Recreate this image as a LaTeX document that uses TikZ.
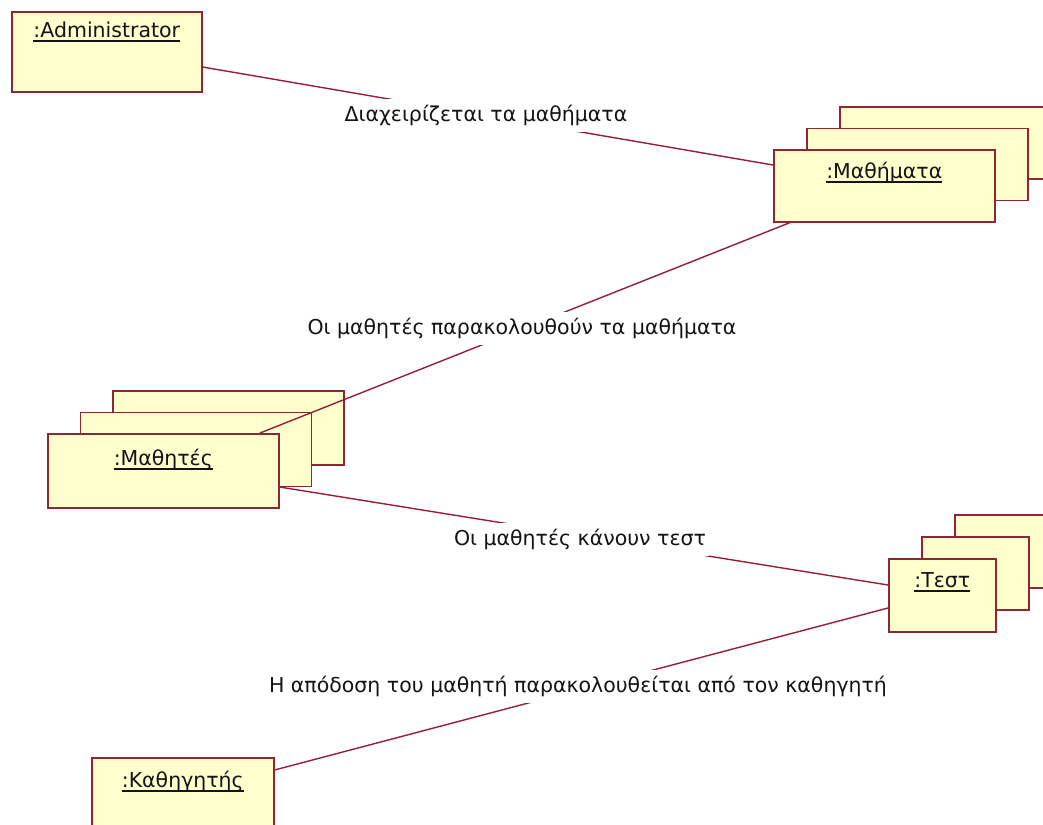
\documentclass[tikz,border=0pt]{standalone}
\usepackage{fontspec}
\setmainfont{DejaVu Sans}
\definecolor{boxfill}{RGB}{255,255,206}
\definecolor{boxline}{RGB}{140,40,50}
\definecolor{linkcol}{RGB}{150,30,60}
\definecolor{txt}{RGB}{20,20,20}
% object name, underlined at a fixed distance below the baseline
\newcommand\objname[1]{\setbox0\hbox{#1}\rlap{\color{txt}\vrule width\wd0 height -3bp depth 4.6bp}\box0}
\tikzset{
  objbox/.style={draw=boxline, line width=1.6bp, fill=boxfill, anchor=north west, inner sep=0pt},
  objtext/.style={anchor=base, text=txt, inner sep=0pt, font=\fontsize{20.5bp}{24bp}\selectfont},
  link/.style={draw=linkcol, line width=1.4bp},
  linklabel/.style={anchor=base, fill=white, text=txt, inner xsep=3bp, inner ysep=0pt,
    text height=22bp, text depth=11bp, font=\fontsize{20.5bp}{24bp}\selectfont}
}
\begin{document}
\begin{tikzpicture}[x=1bp, y=-1bp]
\useasboundingbox (0,0) rectangle (1043,825);
\clip (0,0) rectangle (1043,825);
\fill[white] (0,0) rectangle (1043,825);

% single objects
\node[objbox, minimum width=190bp, minimum height=80bp] (adm) at (11,11) {};
\node[objtext] (admT) at ([yshift=-26bp]adm.north) {\objname{:Administrator}};

\node[objbox, minimum width=182bp, minimum height=82bp] (kat) at (91,757) {};
\node[objtext] (katT) at ([yshift=-30bp]kat.north) {\objname{:Καθηγητής}};

% multi-objects: three stacked boxes each
\node[objbox, minimum width=221bp, minimum height=72bp] (matC) at (839,106) {};
\node[objbox, minimum width=221bp, minimum height=72bp] (matB) at (806,127.5) {};
\node[objbox, minimum width=221bp, minimum height=72bp] (mat) at (773,149) {};
\node[objtext] (matT) at ([yshift=-29bp]mat.north) {\objname{:Μαθήματα}};

\node[objbox, minimum width=231bp, minimum height=74bp] (stuC) at (112,390) {};
\node[objbox, minimum width=231bp, minimum height=74bp] (stuB) at (79.5,411.5) {};
\node[objbox, minimum width=231bp, minimum height=74bp] (stu) at (47,433) {};
\node[objtext] (stuT) at ([yshift=-32bp]stu.north) {\objname{:Μαθητές}};

\node[objbox, minimum width=107bp, minimum height=73bp] (tstC) at (954,514) {};
\node[objbox, minimum width=107bp, minimum height=73bp] (tstB) at (921,536) {};
\node[objbox, minimum width=107bp, minimum height=73bp] (tst) at (888,558) {};
\node[objtext] (tstT) at ([yshift=-29bp]tst.north) {\objname{:Τεστ}};

% links
\draw[link] ([yshift=-56bp]adm.north east) -- ([yshift=-16bp]mat.north west);
\draw[link] ([xshift=17bp]mat.south west) -- ([xshift=213bp]stu.north west);
\draw[link] ([yshift=-54bp]stu.north east) -- ([yshift=-27bp]tst.north west);
\draw[link] ([yshift=-13bp]kat.north east) -- ([yshift=-50bp]tst.north west);

% link labels, centred on the middle of each link
\node[linklabel] (l1) at (486,121) {Διαχειρίζεται τα μαθήματα};
\node[linklabel] (l2) at (522,334) {Οι μαθητές παρακολουθούν τα μαθήματα};
\node[linklabel] (l3) at (580,545) {Οι μαθητές κάνουν τεστ};
\node[linklabel] (l4) at (578,692) {Η απόδοση του μαθητή παρακολουθείται από τον καθηγητή};
\end{tikzpicture}
\end{document}
